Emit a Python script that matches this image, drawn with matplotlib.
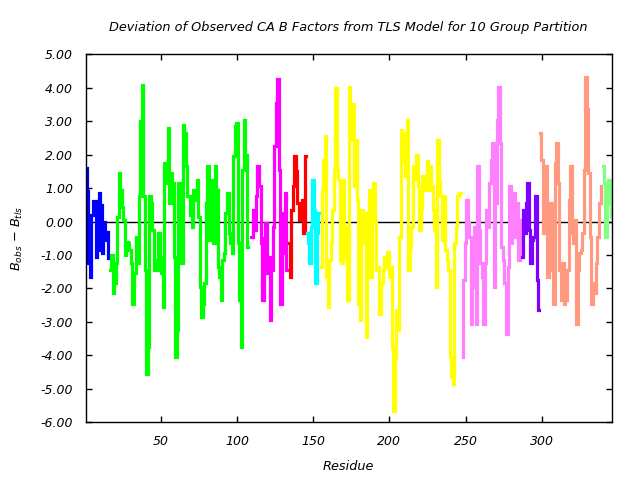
import numpy as np
import matplotlib
matplotlib.use("Agg")
import matplotlib.pyplot as plt

plt.rcParams['font.family'] = ['DejaVu Sans']
plt.rcParams['mathtext.fontset'] = 'dejavusans'

title = "Deviation of Observed CA B Factors from TLS Model for 10 Group Partition"

group_starts = [1, 17, 109, 134, 146, 155, 248, 287, 299, 340]
group_colors = ["#0000ff", "#00ff00", "#ff00ff", "#ff0000", "#00ffff",
                "#ffff00", "#ff80ff", "#8000ff", "#ff9980", "#80ff80"]

g1 = [1.6, 0.9, -1.25, -1.65, 0.2, 0.6, 0.6, -1.05, -0.85, 0.85, 0.5, -0.95, 0.0, -0.55, -0.3, -1.1]
g2 = [-1.45, -1.0, -2.15, -1.85, -1.25, 0.15, 1.45, 0.95, 0.45, 0.05,
      -1.0, -0.6, -0.65, -0.85, -1.25, -2.45, -1.55, -0.45, -1.25, 0.75,
      3.0, 4.08, 0.75, -1.45, -4.55, -3.75, 0.75, 0.55, -0.25, -1.45,
      -1.15, -1.45, -0.35, -1.05, -1.55, -2.55, 1.75, 1.15, 2.8, 0.55,
      1.45, 1.15, -1.05, -4.05, -3.25, 1.15, -0.45, -1.25, 2.9, 2.65,
      1.65, 0.75, 0.75, 0.2, -0.15, 0.95, 0.65, 1.25, 0.15, -1.95,
      -2.85, -2.45, -1.85, 0.55, 1.65, -0.55, 1.25, 0.55, -0.65, 1.65,
      0.95, -1.35, -1.65, -2.35, -1.15, -0.95, 0.25, 0.85, -0.35, -0.65,
      -0.95, 1.95, 2.85, 2.95, -0.65, -2.35, -3.75, 1.55, 3.05, 2.0, -0.75]
g3 = [-0.45, -0.45, 0.35, -0.25, 0.75, 1.65, 1.05, -0.65, -2.35, -0.5,
      -0.05, -1.55, -1.05, -2.95, -1.45, -0.15, 2.25, 3.55, 4.25, 1.55,
      -2.45, 0.25, -0.95, 0.85, -1.45]
g4 = [-0.65, -1.65, 0.35, 1.05, 1.95, 1.5, 0.55, 0.05, 0.45, 0.65, -0.35, 1.95]
g5 = [-0.35, -0.65, -1.25, -0.15, 1.25, 0.35, -1.85, -0.35, 0.25]
g6 = [-1.35, 0.95, 1.85, 2.55, -1.65, -2.55,
      -1.15, -0.65, 0.35, 1.55, 4.0, 1.55, 1.25, -1.15, -1.25, 1.25,
      -0.15, -1.05, -2.35, 4.03, 2.45, 3.5, 1.05, 2.45, 0.65, -2.45,
      -2.95, 0.35, -0.65, 0.25, -3.45, -0.85, 0.95, -1.65, 0.15, 1.15,
      -0.05, -1.45, -1.35, -2.75, -1.85, -1.45, -1.05, -1.35, -0.9, -1.65,
      -1.35, -3.75, -5.65, -4.05, -2.65, -3.25, -0.45, 2.75, 1.85, 2.65,
      1.35, 3.05, -1.45, -0.75, -0.15, 1.65, 1.25, 2.0, 1.05, -0.25,
      0.35, 1.35, 0.95, 1.35, 1.8, 0.95, 1.65, 1.05, 0.35, -0.25,
      -1.95, 2.45, 1.25, 0.75, -0.55, 0.75, -0.85, -1.15, -1.45, -4.05,
      -4.65, -4.85, -0.65, -0.15, 0.75, 0.85, 0.85]
g7 = [-4.05, -1.75, -0.65, 0.65, -0.05, -0.45, -3.05, -1.95, -0.15, -3.05,
      1.65, -0.25, -1.25, -1.65, -3.05, -1.25, 0.35, -0.15, 1.15, 1.85,
      2.35, -1.95, 0.55, 3.05, 4.03, 2.35, -0.75, -1.15, -1.85, -3.35,
      -1.35, 1.05, -0.65, 0.25, 0.85, -0.45, 0.55, -1.15, 0.05]
g8 = [-1.05, 0.35, -0.35, 0.55, 1.15, -0.25, -1.25, -0.55, -0.45, 0.75, -1.75, -2.65]
g9 = [2.65, 1.85, -0.35, 0.55, 1.65, -1.65, -1.45, 0.55, 0.25, -2.45,
      1.75, 2.35, 1.15, -1.45, -2.35, -1.25, -2.45, -2.35, -1.45, 0.65,
      1.65, -0.35, -0.65, 0.05, -3.05, -1.45, -0.95, -0.85, -0.35, 1.55,
      4.33, 3.35, 1.45, -0.45, -2.45, -1.85, -2.15, -1.25, -0.45, 0.55, 1.05]
g10 = [1.65, 1.15, -0.45, 0.55, 1.25, 0.55, 0.15]
groups = [g1, g2, g3, g4, g5, g6, g7, g8, g9, g10]

y_ticks = [5, 4, 3, 2, 1, 0, -1, -2, -3, -4, -5, -6]
x_ticks = [50, 100, 150, 200, 250, 300]

fig = plt.figure(figsize=(6.4, 4.8), dpi=100)
ax = fig.add_axes([0.1336, 0.1202, 0.8231, 0.7667])

ax.axhline(0, color="black", lw=1.0, zorder=1)
for start, vals, col in zip(group_starts, groups, group_colors):
    res = np.arange(start, start + len(vals))
    ax.plot(res, vals, color=col, lw=2.3, drawstyle="steps-mid", zorder=2,
            solid_joinstyle="miter")

ax.set_xlim(0.7, 346.2)
ax.set_ylim(-6, 5)
ax.set_yticks(y_ticks)
ax.set_yticklabels([f"{v:.2f}" for v in y_ticks])
ax.set_xticks(x_ticks)
ax.set_xticklabels([str(v) for v in x_ticks])
ax.tick_params(direction="in", length=4, width=1, top=True, right=True,
               labelsize=9, pad=9)
for lab in ax.get_xticklabels() + ax.get_yticklabels():
    lab.set_fontstyle("italic")
for sp in ax.spines.values():
    sp.set_linewidth(1.0)

fig.text(0.5445, 1 - 27 / 480, title, fontsize=9.3, fontstyle="italic",
         ha="center", va="center")
fig.text(0.5445, 1 - 467 / 480, "Residue", fontsize=9.3, fontstyle="italic",
         ha="center", va="center")
fig.text(17 / 640, 0.504, r"$B_{obs}$ $-$ $B_{tls}$", fontsize=9.3,
         rotation=90, ha="center", va="center")

fig.savefig("out.png", dpi=100)
